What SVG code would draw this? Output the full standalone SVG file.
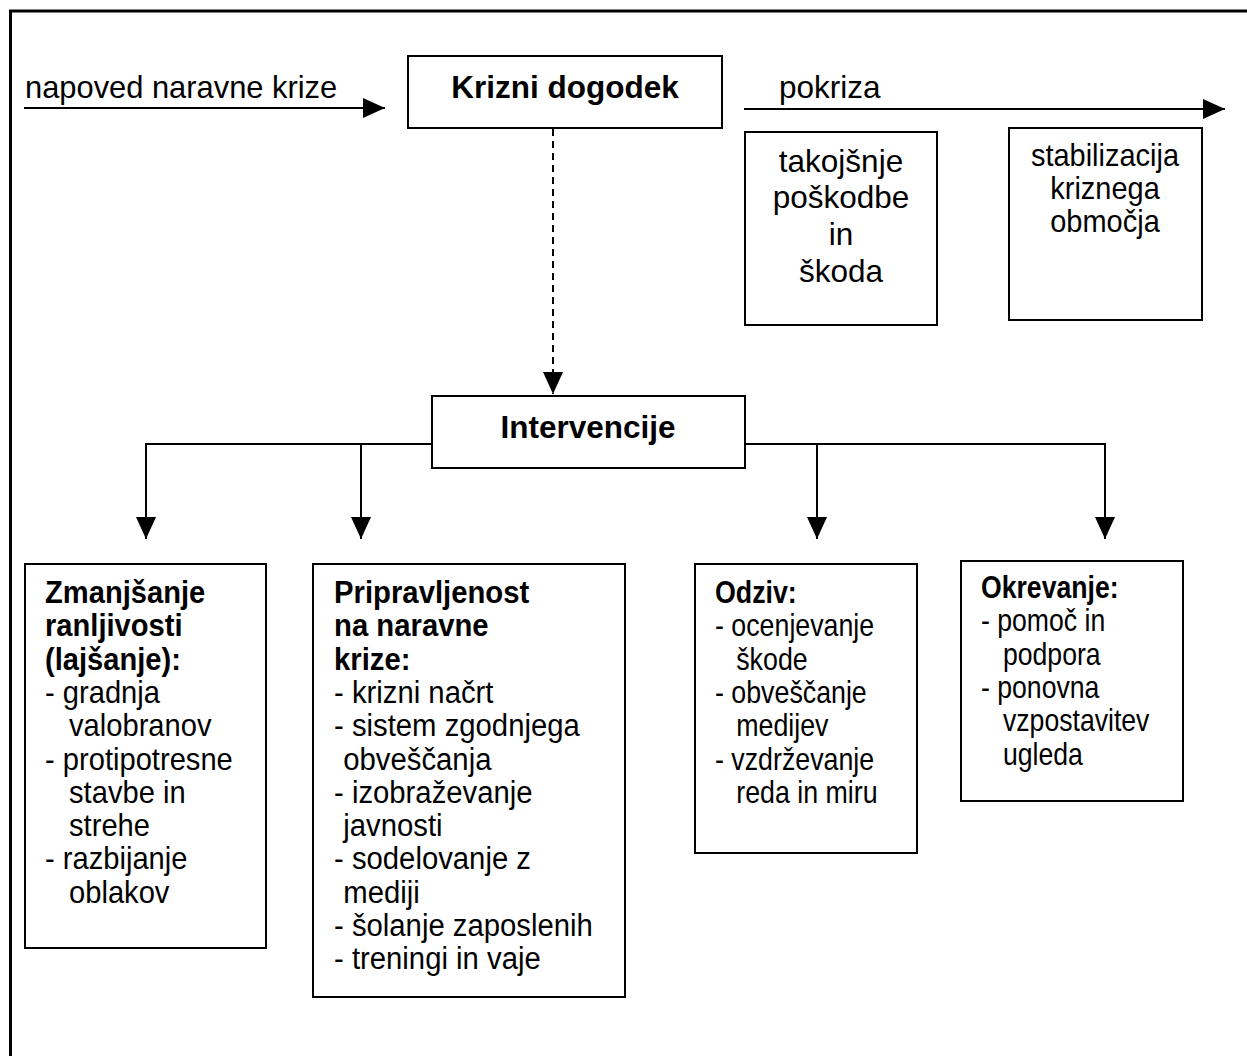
<svg xmlns="http://www.w3.org/2000/svg" width="1247" height="1056" viewBox="0 0 1247 1056">
<style>
text{font-family:"Liberation Sans",Arial,sans-serif;font-size:31.5px;fill:#000}
.b{font-weight:bold}
.m{text-anchor:middle}
.box{fill:#fff;stroke:#000;stroke-width:2}
.ln{fill:none;stroke:#000;stroke-width:2}
</style>
<defs>
<marker id="ah" viewBox="0 0 22 20" refX="22" refY="10" markerWidth="22" markerHeight="20" markerUnits="userSpaceOnUse" orient="auto">
<path d="M0,0 L22,10 L0,20 Z" fill="#000"/>
</marker>
</defs>
<rect width="1247" height="1056" fill="#fff"/>
<path d="M10.5,1070 V11 H1260" fill="none" stroke="#000" stroke-width="3"/>
<g id="connectors">
<line class="ln" x1="24" y1="108" x2="385" y2="108" marker-end="url(#ah)"/>
<line class="ln" x1="744" y1="109" x2="1225" y2="109" marker-end="url(#ah)"/>
<line class="ln" x1="553" y1="129" x2="553" y2="394" stroke-dasharray="7,5" marker-end="url(#ah)"/>
<polyline class="ln" points="432,444 146,444 146,539" marker-end="url(#ah)"/>
<line class="ln" x1="361" y1="444" x2="361" y2="539" marker-end="url(#ah)"/>
<polyline class="ln" points="745,444 1105,444 1105,539" marker-end="url(#ah)"/>
<line class="ln" x1="817" y1="444" x2="817" y2="539" marker-end="url(#ah)"/>
</g>
<g id="label-napoved" transform="translate(25,0) scale(0.98,1)"><text x="0" y="98">napoved naravne krize</text></g>
<g id="label-pokriza"><text x="779" y="98">pokriza</text></g>
<g id="krizni">
<rect class="box" x="408" y="56" width="314" height="72"/>
<text class="b m" x="565" y="98">Krizni dogodek</text>
</g>
<g id="takojsnje">
<rect class="box" x="745" y="132" width="192" height="193"/>
<text class="m" x="841" y="172">takojšnje</text>
<text class="m" x="841" y="208">poškodbe</text>
<text class="m" x="841" y="245">in</text>
<text class="m" x="841" y="282">škoda</text>
</g>
<g id="stabilizacija">
<rect class="box" x="1009" y="128" width="193" height="192"/>
<g transform="translate(1105,0) scale(0.92,1)">
<text class="m" x="0" y="166">stabilizacija</text>
<text class="m" x="0" y="199">kriznega</text>
<text class="m" x="0" y="232">območja</text>
</g>
</g>
<g id="intervencije">
<rect class="box" x="432" y="396" width="313" height="72"/>
<text class="b m" x="588" y="438">Intervencije</text>
</g>
<g id="zmanjsanje">
<rect class="box" x="25" y="564" width="241" height="384"/>
<g transform="translate(45,0) scale(0.925,1)">
<text class="b" x="0" y="603">Zmanjšanje</text>
<text class="b" x="0" y="636">ranljivosti</text>
<text class="b" x="0" y="670">(lajšanje):</text>
<text x="0" y="703">- gradnja</text>
<text x="26" y="736">valobranov</text>
<text x="0" y="770">- protipotresne</text>
<text x="26" y="803">stavbe in</text>
<text x="26" y="836">strehe</text>
<text x="0" y="869">- razbijanje</text>
<text x="26" y="903">oblakov</text>
</g>
</g>
<g id="pripravljenost">
<rect class="box" x="313" y="564" width="312" height="433"/>
<g transform="translate(334,0) scale(0.93,1)">
<text class="b" x="0" y="603">Pripravljenost</text>
<text class="b" x="0" y="636">na naravne</text>
<text class="b" x="0" y="670">krize:</text>
<text x="0" y="703">- krizni načrt</text>
<text x="0" y="736">- sistem zgodnjega</text>
<text x="10" y="770">obveščanja</text>
<text x="0" y="803">- izobraževanje</text>
<text x="10" y="836">javnosti</text>
<text x="0" y="869">- sodelovanje z</text>
<text x="10" y="903">mediji</text>
<text x="0" y="936">- šolanje zaposlenih</text>
<text x="0" y="969">- treningi in vaje</text>
</g>
</g>
<g id="odziv">
<rect class="box" x="695" y="564" width="222" height="289"/>
<g transform="translate(715,0) scale(0.85,1)">
<text class="b" x="0" y="603">Odziv:</text>
<text x="0" y="636">- ocenjevanje</text>
<text x="25" y="670">škode</text>
<text x="0" y="703">- obveščanje</text>
<text x="25" y="736">medijev</text>
<text x="0" y="770">- vzdrževanje</text>
<text x="25" y="803">reda in miru</text>
</g>
</g>
<g id="okrevanje">
<rect class="box" x="961" y="561" width="222" height="240"/>
<g transform="translate(981,0) scale(0.845,1)">
<text class="b" x="0" y="598">Okrevanje:</text>
<text x="0" y="631">- pomoč in</text>
<text x="26" y="665">podpora</text>
<text x="0" y="698">- ponovna</text>
<text x="26" y="731">vzpostavitev</text>
<text x="26" y="765">ugleda</text>
</g>
</g>
</svg>
